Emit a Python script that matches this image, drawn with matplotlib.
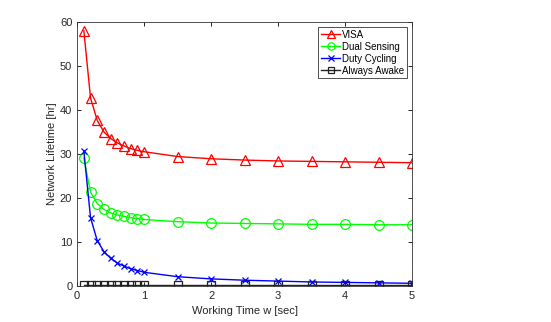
import numpy as np
import matplotlib
matplotlib.use("Agg")
import matplotlib.pyplot as plt

plt.rcParams["font.family"] = ["Liberation Sans", "DejaVu Sans"]
plt.rcParams["font.size"] = 8

# working time w [sec]
w = [0.1, 0.2, 0.3, 0.4, 0.5, 0.6, 0.7, 0.8, 0.9, 1.0,
     1.5, 2.0, 2.5, 3.0, 3.5, 4.0, 4.5, 5.0]

# network lifetime [hr]
visa = [58.0, 42.7, 37.6, 35.0, 33.5, 32.5, 31.8, 31.2, 30.8, 30.5,
        29.4, 28.9, 28.6, 28.4, 28.3, 28.2, 28.1, 28.0]
dual_sensing = [29.0, 21.3, 18.7, 17.4, 16.6, 16.1, 15.8, 15.5, 15.3, 15.1,
                14.6, 14.3, 14.2, 14.1, 14.0, 14.0, 13.9, 13.9]
duty_cycling = [30.7, 15.5, 10.3, 7.8, 6.3, 5.2, 4.5, 3.9, 3.5, 3.1,
                2.1, 1.6, 1.3, 1.1, 0.9, 0.8, 0.7, 0.6]
always_awake = [0.1] * len(w)

fig = plt.figure(figsize=(5.51, 3.22), dpi=100)
ax = fig.add_axes([0.14, 0.112, 0.608, 0.82])

ax.plot(w, visa, color="#ff0000", lw=1, marker="^", ms=7, mfc="none", mew=0.9, label="VISA")
ax.plot(w, dual_sensing, color="#00ff00", lw=1, marker="o", ms=7, mfc="none", mew=0.9, label="Dual Sensing")
ax.plot(w, duty_cycling, color="#0000ff", lw=1, marker="x", ms=5, mew=0.9, label="Duty Cycling")
ax.plot(w, always_awake, color="#222222", lw=1, marker="s", ms=5.5, mfc="none", mew=0.9, label="Always Awake")

ax.set_xlim(0, 5)
ax.set_ylim(0, 60)
ax.set_xticks(range(0, 6))
ax.set_yticks(range(0, 61, 10))
ax.tick_params(direction="in", top=True, right=True, length=3, width=0.6,
               labelsize=8, labelcolor="#262626")
for s in ax.spines.values():
    s.set_linewidth(0.6)
    s.set_color("#333333")

ax.set_xlabel("Working Time w [sec]", fontsize=8, color="#262626")
ax.set_ylabel("Network Lifetime [hr]", fontsize=8, color="#262626", labelpad=2)

leg = ax.legend(loc="upper right", fontsize=7, frameon=True, fancybox=False,
                edgecolor="black", handlelength=2.0, borderpad=0.3,
                labelspacing=0.2, handletextpad=0.2, borderaxespad=0.5,
                markerscale=0.75)
leg.get_frame().set_linewidth(0.6)

fig.savefig("out.png", dpi=100)
